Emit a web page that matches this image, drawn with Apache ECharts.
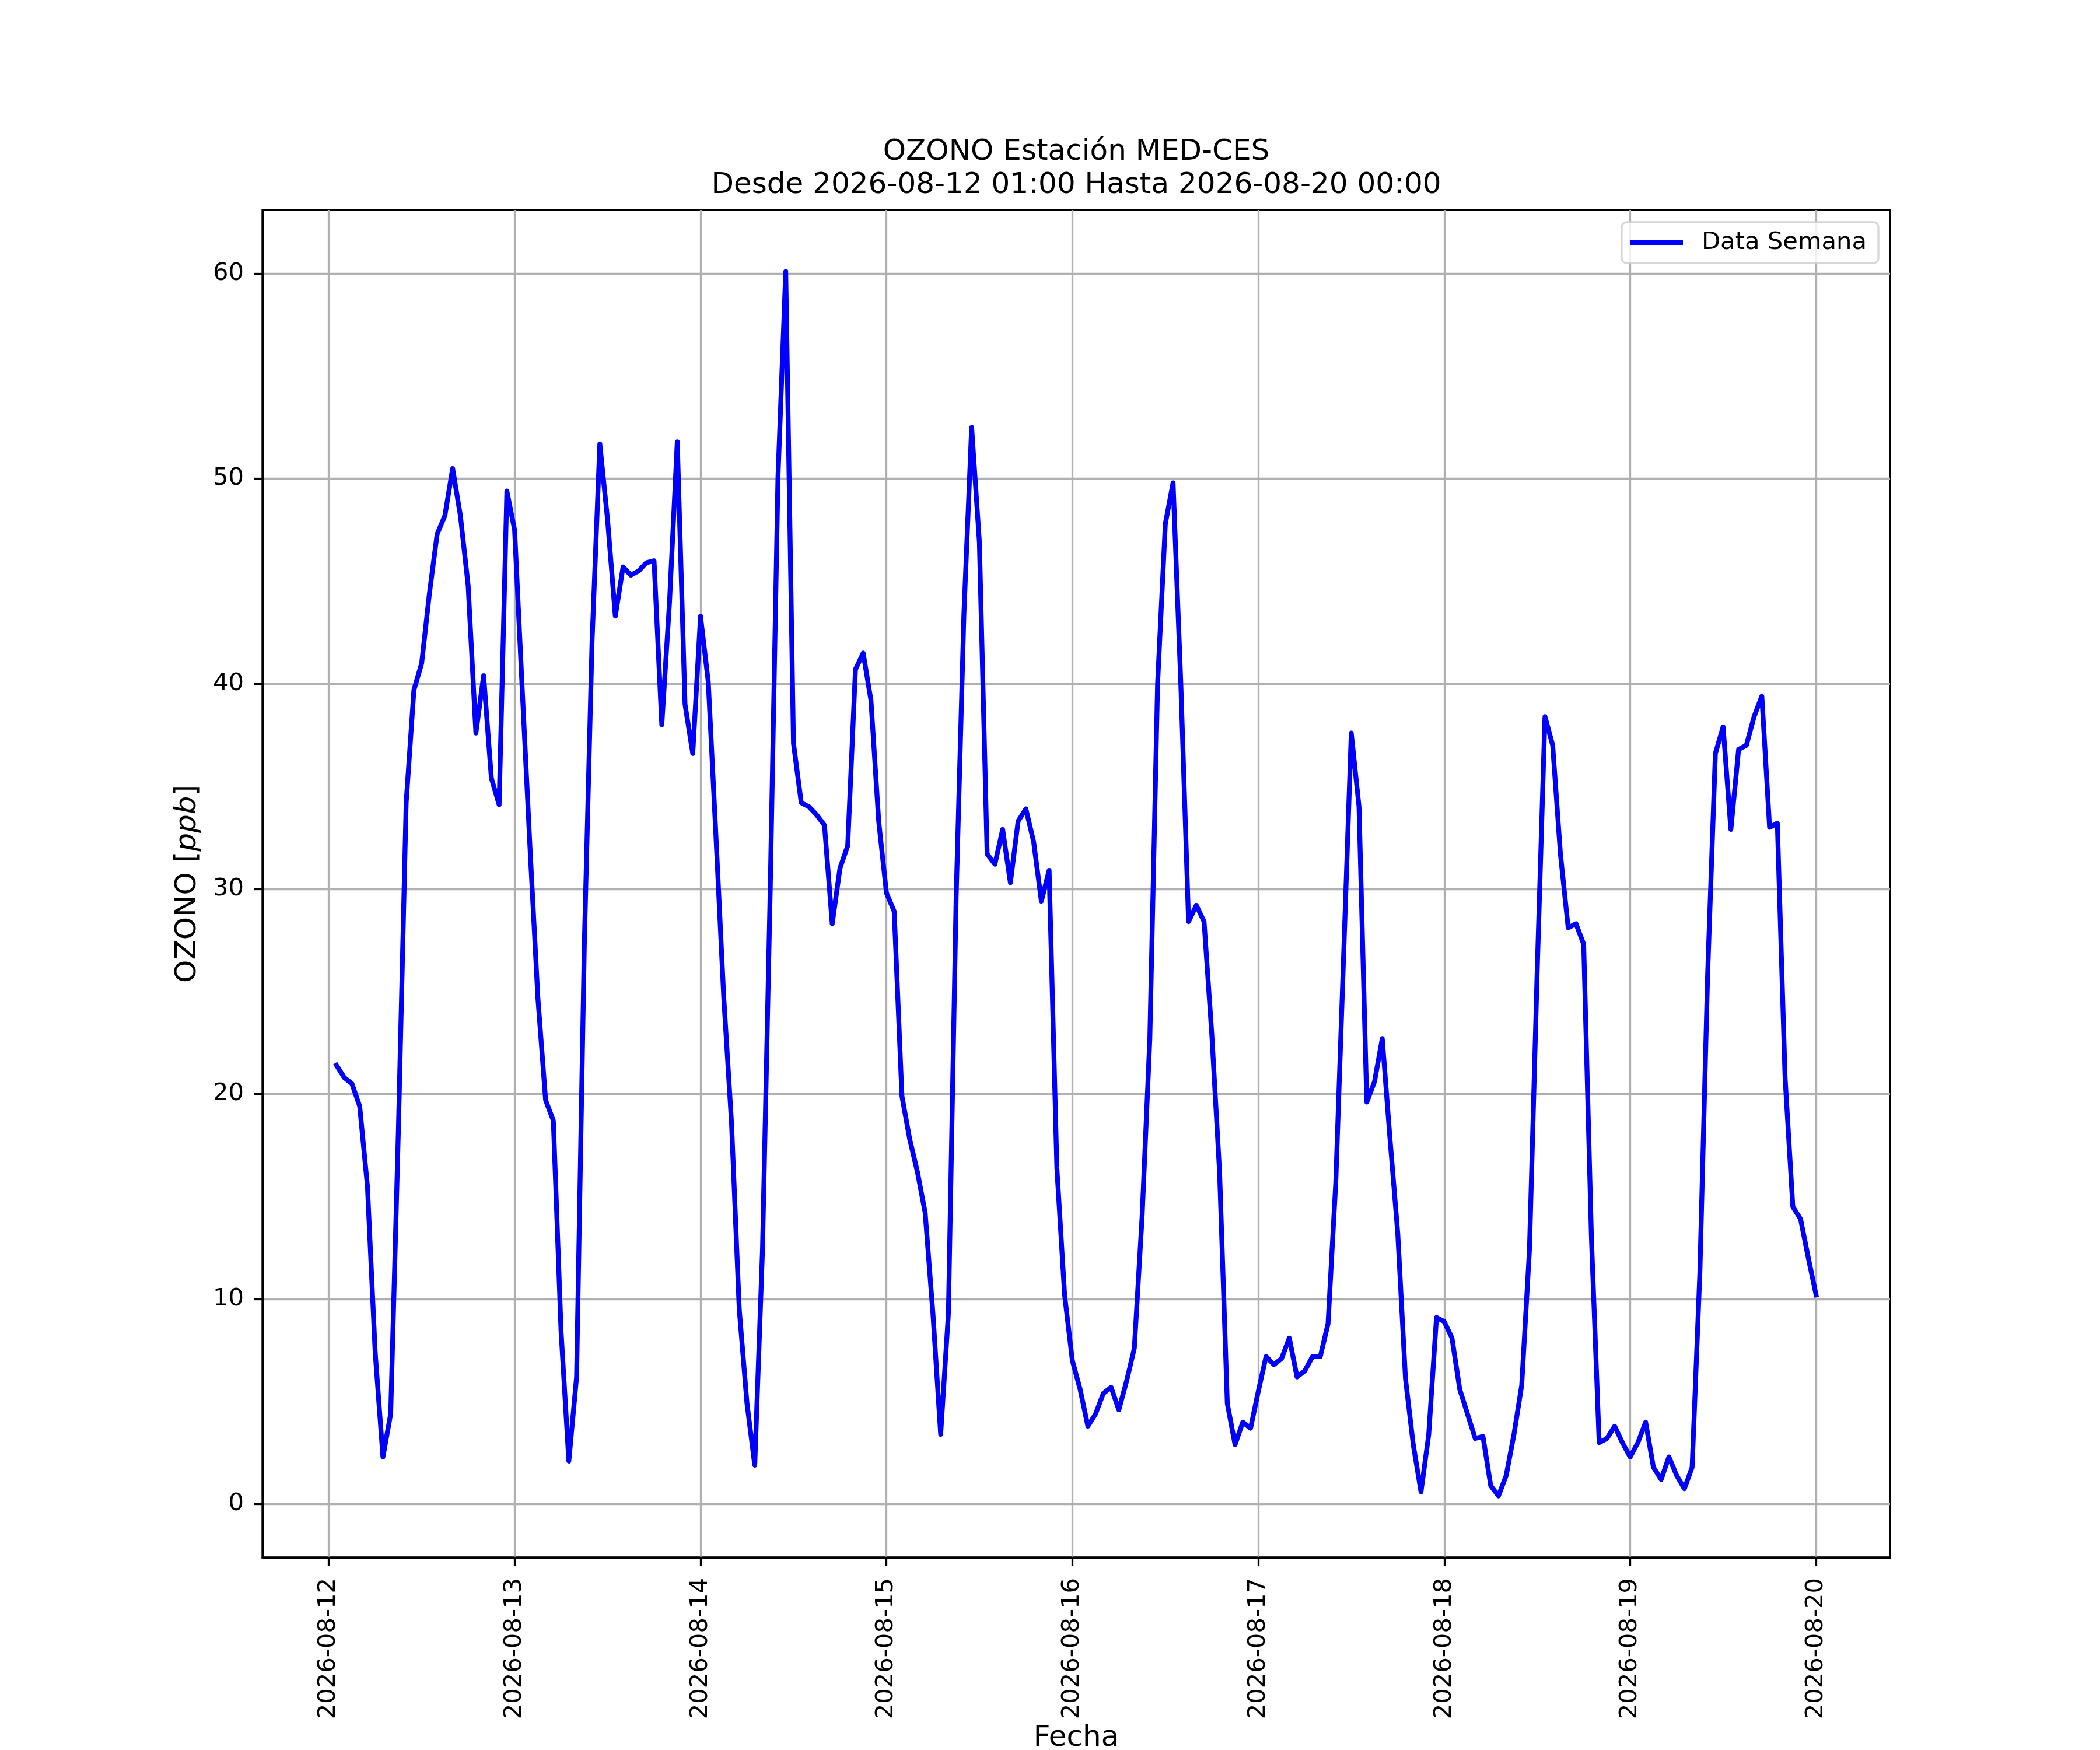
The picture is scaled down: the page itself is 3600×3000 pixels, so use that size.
<!DOCTYPE html>
<html>
<head>
<meta charset="utf-8">
<script src="https://cdn.jsdelivr.net/npm/echarts@6/dist/echarts.min.js"></script>
<style>
  html, body { margin: 0; padding: 0; background: #fff; }
  #chart { width: 3600px; height: 3000px; }
</style>
</head>
<body>
<div id="chart"></div>
<script>
// horas desde 2026-08-12 00:00, primera medida a la 01:00
var startHour = 1;
var day12 = [21.4, 20.8, 20.5, 19.4, 15.5, 7.4, 2.3, 4.4, 18.3, 34.2, 39.7, 41.0,
             44.4, 47.3, 48.2, 50.5, 48.2, 44.8, 37.6, 40.4, 35.4, 34.1, 49.4, 47.5];
var day13 = [39.6, 31.9, 24.7, 19.7, 18.7, 8.4, 2.1, 6.2, 27.3, 42.1, 51.7, 48.0,
             43.3, 45.7, 45.3, 45.5, 45.9, 46.0, 38.0, 44.0, 51.8, 39.0, 36.6, 43.3];
var day14 = [40.1, 32.5, 24.7, 18.6, 9.5, 4.9, 1.9, 12.4, 30.0, 50.1, 60.1, 37.1,
             34.2, 34.0, 33.6, 33.1, 28.3, 31.0, 32.1, 40.7, 41.5, 39.2, 33.3, 29.8];
var day15 = [28.9, 19.9, 17.8, 16.2, 14.2, 9.3, 3.4, 9.3, 29.6, 43.4, 52.5, 46.9,
             31.7, 31.2, 32.9, 30.3, 33.3, 33.9, 32.3, 29.4, 30.9, 16.4, 10.2, 7.0];
var day16 = [5.6, 3.8, 4.4, 5.4, 5.7, 4.6, 6.0, 7.6, 14.0, 22.7, 40.0, 47.8,
             49.8, 40.0, 28.4, 29.2, 28.4, 22.9, 16.2, 4.9, 2.9, 4.0, 3.7, 5.5];
var day17 = [7.2, 6.8, 7.1, 8.1, 6.2, 6.5, 7.2, 7.2, 8.8, 15.7, 26.6, 37.6,
             34.0, 19.6, 20.6, 22.7, 17.8, 13.2, 6.1, 2.9, 0.6, 3.4, 9.1, 8.9];
var day18 = [8.1, 5.6, 4.4, 3.2, 3.3, 0.9, 0.4, 1.4, 3.4, 5.8, 12.4, 26.0,
             38.4, 37.0, 31.7, 28.1, 28.3, 27.3, 13.0, 3.0, 3.2, 3.8, 3.0, 2.3];
var day19 = [3.0, 4.0, 1.8, 1.2, 2.3, 1.4, 0.75, 1.8, 11.3, 25.8, 36.6, 37.9,
             32.9, 36.8, 37.0, 38.4, 39.4, 33.0, 33.2, 20.8, 14.5, 13.9, 12.0, 10.2];

var dayLabels = ['2026-08-12', '2026-08-13', '2026-08-14', '2026-08-15', '2026-08-16',
                 '2026-08-17', '2026-08-18', '2026-08-19', '2026-08-20'];
var xTicks = [0, 24, 48, 72, 96, 120, 144, 168, 192];
var yTicks = [0, 10, 20, 30, 40, 50, 60];

var titleLine1 = 'OZONO Estación MED-CES';
var titleLine2 = 'Desde 2026-08-12 01:00 Hasta 2026-08-20 00:00';
var seriesName = 'Data Semana';

var values = [].concat(day12, day13, day14, day15, day16, day17, day18, day19);
var serie = [];
for (var i = 0; i < values.length; i++) {
    serie.push([startHour + i, values[i]]);
}

var font = 'DejaVu Sans';
var chart = echarts.init(document.getElementById('chart'), null, { renderer: 'canvas' });

var option = {
    animation: false,
    backgroundColor: '#ffffff',
    textStyle: { fontFamily: font },
    title: {
        text: titleLine1 + '\n' + titleLine2,
        left: 1845,
        top: 233,
        textAlign: 'center',
        padding: 0,
        textStyle: {
            fontFamily: font,
            fontSize: 50,
            fontWeight: 'normal',
            color: '#000',
            lineHeight: 57
        }
    },
    legend: {
        data: [seriesName],
        right: 380,
        top: 381,
        orient: 'vertical',
        icon: 'rect',
        itemWidth: 91,
        itemHeight: 8,
        selectedMode: false,
        padding: [14, 20, 14, 14],
        backgroundColor: 'rgba(255,255,255,0.8)',
        borderColor: 'rgba(204,204,204,0.8)',
        borderWidth: 3.3,
        borderRadius: 8,
        textStyle: {
            fontFamily: font,
            fontSize: 41.7,
            color: '#000',
            padding: [0, 0, 0, 27]
        }
    },
    grid: {
        left: 450,
        right: 360,
        top: 360,
        bottom: 330,
        show: true,
        backgroundColor: '#fff',
        borderColor: '#000',
        borderWidth: 3.3,
        containLabel: false,
        outerBoundsMode: 'none'
    },
    xAxis: {
        type: 'value',
        min: -8.55,
        max: 201.55,
        name: 'Fecha',
        nameLocation: 'middle',
        nameGap: 283,
        nameTextStyle: { fontFamily: font, fontSize: 50, color: '#000' },
        axisLine: { show: true, onZero: false, lineStyle: { color: '#000', width: 3.3 } },
        axisTick: {
            show: true, inside: false, length: 14.6,
            customValues: xTicks,
            lineStyle: { color: '#000', width: 3.3 }
        },
        axisLabel: {
            show: true,
            customValues: xTicks,
            rotate: 90,
            margin: 35,
            fontFamily: font,
            fontSize: 41.7,
            color: '#000',
            formatter: function (v) { return dayLabels[Math.round(v / 24)]; }
        },
        splitLine: { show: true, lineStyle: { color: '#b0b0b0', width: 3.3 } }
    },
    yAxis: {
        type: 'value',
        min: -2.6,
        max: 63.1,
        name: 'OZONO [{i|ppb}]',
        nameLocation: 'middle',
        nameRotate: 90,
        nameGap: 103,
        nameTextStyle: {
            fontFamily: font,
            fontSize: 50,
            color: '#000',
            rich: {
                i: { fontFamily: font, fontSize: 50, fontStyle: 'italic', color: '#000' }
            }
        },
        axisLine: { show: true, onZero: false, lineStyle: { color: '#000', width: 3.3 } },
        axisTick: {
            show: true, inside: false, length: 14.6,
            customValues: yTicks,
            lineStyle: { color: '#000', width: 3.3 }
        },
        axisLabel: {
            show: true,
            customValues: yTicks,
            margin: 32,
            fontFamily: font,
            fontSize: 41.7,
            color: '#000'
        },
        splitLine: { show: true, lineStyle: { color: '#b0b0b0', width: 3.3 } }
    },
    series: [{
        name: seriesName,
        type: 'line',
        data: serie,
        showSymbol: false,
        symbol: 'none',
        color: '#0000ff',
        lineStyle: { color: '#0000ff', width: 8.3, join: 'round', cap: 'square' },
        emphasis: { disabled: true }
    }]
};
chart.setOption(option);
</script>
</body>
</html>
